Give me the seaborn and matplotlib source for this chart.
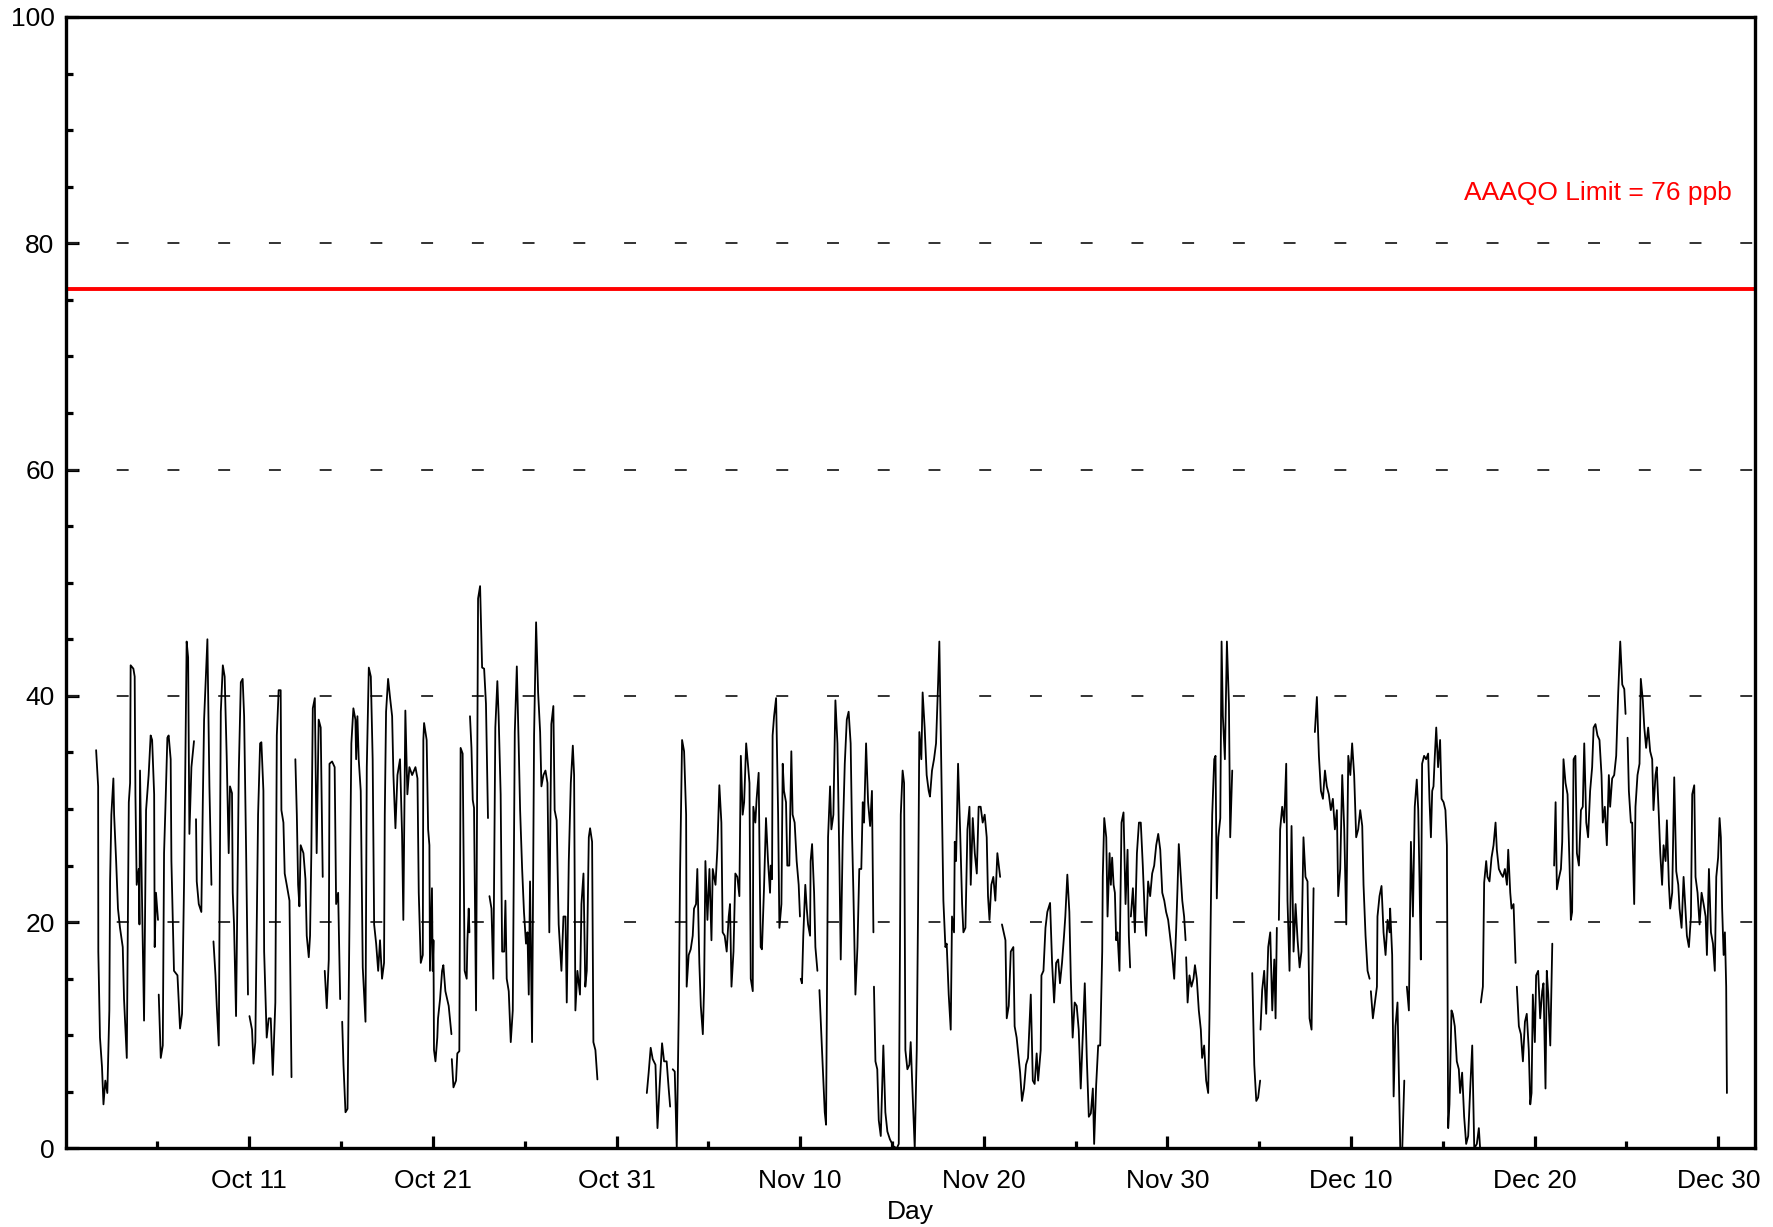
import numpy as np
import pandas as pd
import matplotlib.pyplot as plt
import matplotlib.dates as mdates
import seaborn as sns

nan = np.nan

# hourly ozone (ppb): day offset from Oct 1 00:00, value
# nan marks a break in the record
oct_days = [1.66, 1.77, 1.78, 1.87, 1.98, 2.06, 2.16, 2.27, 2.38, 2.42, 2.49, 2.60, 2.64, 2.75, 2.85, 2.96,
            3.11, 3.18, 3.33, 3.44, 3.51, 3.54, 3.69, 3.76, 3.80, 3.87, 3.98, 4.02, 4.05, 4.16, 4.27, 4.38,
            4.52, 4.63, 4.71, 4.82, 4.85, 4.92, 5.03, nan,
            5.07, 5.18, 5.29, 5.36, 5.43, 5.54, 5.61, 5.72, 5.76, 5.90, 6.09, 6.23, 6.34, 6.45, 6.59, 6.67,
            6.74, 6.85, 6.99, nan,
            7.10, 7.14, 7.25, 7.39, 7.47, 7.54, 7.72, 7.83, 7.94, nan,
            8.05, 8.16, 8.23, 8.34, 8.45, 8.56, 8.66, 8.77, 8.88, 8.95, 9.06, 9.10, 9.17, 9.28, 9.43, 9.54,
            9.64, 9.72, 9.83, 9.93, nan,
            10.01, 10.15, 10.23, 10.33, 10.48, 10.59, 10.66, 10.77, 10.81, 10.95, 11.06, 11.17, 11.28, 11.42,
            11.50, 11.60, 11.71, 11.75, 11.86, 11.93, 12.04, 12.19, 12.30, nan,
            12.51, 12.59, 12.66, 12.73, 12.80, 12.95, 13.06, 13.13, 13.24, 13.31, 13.38, 13.46, 13.57, 13.67,
            13.78, 13.89, 14.00, nan,
            14.11, 14.22, 14.33, 14.37, 14.51, 14.65, 14.73, 14.84, 14.95, nan,
            15.06, 15.13, 15.24, 15.35, 15.42, 15.56, 15.67, 15.78, 15.82, 15.89, 15.96, 16.07, 16.18, 16.33,
            16.40, 16.51, 16.62, 16.72, 16.80, 16.91, 17.02, 17.12, 17.23, 17.34, 17.38, 17.45, 17.56, 17.67,
            17.78, 17.85, 17.96, 18.07, 18.21, 18.32, 18.39, 18.50, 18.61, 18.72, 18.87, 19.05, 19.16, 19.23,
            19.34, 19.45, 19.48, 19.52, 19.66, 19.74, 19.81, 19.84, 19.95, 19.99, 20.03, 20.06, 20.14, 20.24,
            20.28, 20.39, 20.50, 20.57, 20.68, 20.86, 21.01, nan,
            21.03, 21.12, 21.26, 21.33, 21.44, 21.51, 21.62, 21.73, 21.84, 21.88, 21.95, 21.99, nan,
            22.02, 22.10, 22.17, 22.24, 22.35, 22.46, 22.57, 22.68, 22.79, 22.89, 23.00, nan,
            23.08, 23.19, 23.29, 23.40, 23.51, 23.58, 23.69, 23.77, 23.88, 23.95, 24.02, 24.13, 24.24, 24.35,
            24.46, 24.57, 24.67, 24.75, 24.86, 24.96, 25.07, 25.15, 25.22, 25.29, 25.40, 25.51, 25.62, 25.73,
            25.84, 25.91, 26.02, 26.13, 26.24, 26.34, 26.45, 26.56, 26.63, 26.74, 26.85, 27.00, 27.11, 27.22,
            27.29, 27.40, 27.51, 27.62, 27.69, 27.76, 27.87, 28.01, 28.09, 28.20, 28.30, 28.38, 28.49, 28.56,
            28.67, 28.74, 28.85, 28.96]
oct_ppb = [35.2, 32.0, 17.4, 9.8, 7.2, 3.9, 6.0, 4.9, 12.2, 23.6, 29.5, 32.7, 29.5, 25.4, 21.2, 19.5,
           17.8, 13.2, 8.0, 30.6, 32.3, 42.7, 42.4, 41.7, 31.3, 23.3, 24.7, 19.8, 33.4, 22.0, 11.3, 29.9,
           33.0, 36.5, 36.1, 31.3, 17.8, 22.6, 20.2, nan,
           13.6, 8.0, 9.1, 26.1, 29.9, 36.3, 36.5, 34.4, 25.4, 15.7, 15.3, 10.6, 11.9, 23.6, 44.8, 43.4,
           27.8, 33.7, 36.0, nan,
           29.1, 23.6, 21.6, 20.9, 30.6, 37.9, 45.0, 32.0, 23.3, nan,
           18.3, 15.3, 12.6, 9.1, 38.6, 42.7, 41.7, 34.7, 26.1, 32.0, 31.4, 22.6, 19.8, 11.7, 33.4, 41.2,
           41.5, 38.2, 26.1, 13.6, nan,
           11.7, 10.5, 7.5, 9.4, 29.5, 35.8, 35.9, 31.6, 17.4, 9.8, 11.5, 11.5, 6.5, 12.9,
           36.5, 40.5, 40.5, 29.9, 28.8, 24.3, 23.3, 21.9, 6.3, nan,
           34.4, 29.5, 23.3, 21.4, 26.8, 26.1, 23.8, 18.8, 16.9, 18.8, 26.1, 38.9, 39.8, 26.1,
           37.9, 37.2, 24.0, nan,
           15.7, 12.4, 16.7, 34.0, 34.2, 33.7, 21.6, 22.6, 13.2, nan,
           11.2, 7.4, 3.2, 3.5, 14.3, 35.8, 38.9, 37.9, 34.4, 38.2, 34.4, 31.6, 16.0, 11.2,
           33.7, 42.5, 41.7, 34.4, 19.8, 18.1, 15.7, 18.4, 15.0, 16.4, 29.5, 38.6, 41.5, 39.8,
           38.2, 33.0, 28.3, 33.0, 34.4, 27.8, 20.2, 38.7, 31.3, 33.7, 33.0, 33.7, 32.7, 22.6,
           16.4, 17.1, 36.1, 37.6, 36.1, 28.2, 26.8, 15.7, 23.0, 15.7, 18.4, 8.7, 7.7, 9.8,
           11.5, 13.2, 15.7, 16.2, 13.9, 12.6, 10.1, nan,
           7.9, 5.4, 6.0, 8.4, 8.6, 35.4, 34.9, 15.7, 15.0, 18.4, 21.2, 19.1, nan,
           38.2, 35.4, 30.8, 30.1, 12.2, 48.6, 49.7, 42.5, 42.4, 39.3, 29.2, nan,
           22.3, 21.2, 15.0, 37.2, 41.3, 38.2, 31.3, 17.4, 17.4, 21.9, 15.0, 13.9, 9.4, 12.2,
           36.8, 42.6, 35.8, 29.9, 24.7, 20.9, 18.1, 19.1, 13.6, 23.6, 9.4, 36.5, 46.5, 40.3,
           36.8, 32.0, 33.0, 33.4, 32.3, 19.1, 37.5, 39.1, 29.9, 29.0, 19.8, 15.7, 20.5, 20.5,
           12.9, 25.4, 32.3, 35.6, 33.0, 12.2, 15.7, 13.6, 21.6, 24.3, 14.3, 15.7, 27.5, 28.3,
           27.1, 9.4, 8.7, 6.1]

nov_days = [31.65, 31.75, 31.86, 31.97, 32.12, 32.23, 32.34, 32.48, 32.59, 32.73, 32.84, 32.92, nan,
            33.06, 33.17, 33.28, 33.39, 33.46, 33.57, 33.68, 33.79, 33.82, 33.93, 34.04, 34.15, 34.22, 34.33,
            34.40, 34.51, 34.59, 34.70, 34.77, 34.84, 34.95, 35.06, 35.17, 35.24, 35.39, 35.49, 35.60, 35.71,
            35.78, 35.89, 36.00, 36.11, 36.18, 36.26, 36.37, 36.47, 36.58, 36.69, 36.77, 36.87, 36.95, 37.06,
            37.17, 37.24, 37.31, 37.42, 37.45, 37.56, 37.63, 37.74, 37.81, 37.85, 37.92, 38.03, 38.14, 38.25,
            38.36, 38.40, 38.47, 38.50, 38.58, 38.69, 38.80, 38.87, 38.98, 39.05, 39.12, 39.23, 39.30, 39.41,
            39.52, 39.59, 39.70, 39.81, 39.92, 39.99, nan,
            40.03, 40.10, 40.17, 40.28, 40.36, 40.43, 40.54, 40.57, 40.65, 40.76, 40.83, 40.94, nan,
            41.05, 41.19, 41.34, 41.41, 41.52, 41.63, 41.70, 41.81, 41.92, 42.03, 42.14, 42.21, 42.32, 42.43,
            42.54, 42.64, 42.75, 42.83, 42.90, 43.01, 43.12, 43.22, 43.33, 43.41, 43.48, 43.59, 43.70, 43.81,
            43.91, 43.99, nan,
            44.02, 44.10, 44.20, 44.28, 44.39, 44.53, 44.64, 44.75, 44.89, 45.08, 45.26, 45.37, 45.48, 45.58,
            45.66, 45.73, 45.84, 45.95, 46.02, 46.13, 46.24, 46.35, 46.42, 46.49, 46.60, 46.67, 46.78, 46.89,
            47.00, 47.07, 47.18, 47.29, 47.40, 47.51, 47.58, 47.69, 47.80, 47.91, 47.98, 48.09, 48.20, 48.27,
            48.38, 48.42, 48.49, 48.60, 48.71, 48.82, 48.89, 49.00, 49.11, 49.22, 49.29, 49.40, 49.51, 49.62,
            49.72, 49.83, 49.94, 50.05, 50.16, 50.23, 50.31, 50.41, 50.52, 50.63, 50.74, 50.89, nan,
            50.99, 51.18, 51.25, 51.36, 51.47, 51.61, 51.68, 51.79, 51.90, 51.98, 52.08, 52.19, 52.30, 52.41,
            52.56, 52.67, 52.77, 52.88, 52.96, 53.10, 53.14, 53.25, 53.36, 53.46, 53.61, 53.72, 53.83, 53.94,
            54.05, 54.15, 54.26, 54.37, 54.44, 54.55, 54.66, 54.74, 54.84, 54.95, 55.06, 55.17, 55.28, 55.50,
            55.61, 55.72, 55.83, 55.94, 56.01, 56.12, 56.23, 56.34, 56.45, 56.48, 56.56, 56.67, 56.74, 56.85,
            56.92, 56.99, 57.07, 57.14, 57.21, 57.28, 57.39, 57.50, 57.61, 57.72, 57.83, 57.90, 57.97, nan,
            58.01, 58.12, 58.23, 58.34, 58.45, 58.55, 58.66, 58.77, 58.84, 58.95, 59.06, 59.17, 59.28, 59.39,
            59.50, 59.61, 59.72, 59.83, 59.93, 60.04, 60.12, 60.19, 60.26, 60.37, 60.48, 60.55, 60.62, 60.73,
            60.81, 60.91, 60.99, nan,
            61.02, 61.10, 61.20, 61.31, 61.42, 61.50, 61.60, 61.71, 61.82, 61.89, 62.00, 62.11, 62.22, 62.29,
            62.37, 62.44, 62.55, 62.62, 62.69, 62.77, 62.88, 62.95, 63.02, 63.13, 63.24, 63.35, 63.42, 63.53]
nov_ppb = [4.9, 6.7, 8.9, 7.9, 7.4, 1.8, 5.3, 9.3, 7.7, 7.7, 5.3, 3.7, nan,
           7.0, 6.8, 0.0, 12.2, 24.3, 36.1, 35.1, 29.5, 14.3, 17.1, 17.6, 18.8, 21.2, 21.6,
           24.7, 16.4, 12.6, 10.1, 14.3, 25.4, 20.2, 24.7, 18.4, 24.7, 23.3, 26.4, 32.1, 28.8,
           19.1, 18.8, 17.4, 20.5, 21.6, 14.3, 17.4, 24.3, 24.0, 22.3, 34.7, 29.5, 30.6, 35.8,
           33.7, 32.3, 15.0, 13.9, 30.2, 28.8, 30.9, 33.2, 22.9, 17.8, 17.6, 22.9, 29.2, 25.4,
           22.6, 25.0, 23.8, 36.5, 38.2, 39.8, 29.5, 19.5, 21.6, 34.0, 31.6, 30.6, 25.0, 25.0,
           35.1, 29.5, 28.8, 25.4, 23.3, 20.5, nan,
           15.0, 14.6, 18.8, 23.3, 21.2, 19.8, 18.8, 25.4, 26.9, 22.6, 17.8, 15.7, nan,
           14.0, 8.7, 3.2, 2.1, 27.5, 32.0, 28.2, 29.5, 39.6, 35.8, 25.0, 16.7, 27.5, 34.0,
           37.9, 38.6, 35.8, 27.5, 22.6, 13.6, 17.8, 24.7, 24.7, 30.6, 28.8, 35.8, 30.6, 28.5,
           31.6, 19.1, nan,
           14.3, 7.7, 7.0, 2.5, 1.1, 9.1, 3.2, 1.5, 0.8, 0.2, 0.0, 0.4, 29.5, 33.4,
           32.3, 8.7, 7.0, 7.4, 9.4, 4.6, 0.0, 8.7, 20.9, 36.8, 34.4, 40.3, 37.2, 33.0,
           31.6, 31.1, 33.4, 34.4, 35.8, 41.0, 44.8, 33.4, 21.9, 17.8, 18.1, 13.6, 10.5, 20.5,
           19.1, 27.1, 25.4, 34.0, 28.2, 21.6, 19.1, 19.5, 28.2, 30.2, 23.3, 29.2, 26.1, 24.3,
           30.2, 30.2, 28.8, 29.5, 27.5, 22.3, 20.2, 23.3, 24.0, 21.9, 26.1, 24.0, nan,
           19.8, 18.4, 11.5, 12.6, 17.4, 17.8, 10.8, 9.8, 8.0, 6.7, 4.2, 5.3, 7.4, 8.0,
           13.6, 6.0, 5.7, 8.4, 6.0, 8.7, 15.3, 15.7, 19.5, 20.9, 21.7, 16.4, 12.9, 16.4,
           16.7, 14.6, 16.4, 18.8, 20.5, 24.2, 20.9, 15.0, 9.8, 12.9, 12.6, 10.5, 5.3, 14.6,
           8.0, 2.8, 3.1, 5.3, 0.4, 5.6, 9.1, 9.1, 17.4, 24.0, 29.2, 27.5, 20.5, 26.1,
           23.3, 25.7, 23.3, 22.6, 18.4, 19.1, 15.7, 28.8, 29.7, 21.6, 26.4, 18.8, 16.0, nan,
           20.5, 23.0, 19.1, 26.1, 28.8, 28.8, 25.0, 20.5, 18.8, 23.6, 22.3, 24.3, 25.0, 26.8,
           27.8, 26.4, 22.6, 21.9, 20.9, 20.2, 19.1, 18.1, 17.1, 15.0, 19.5, 23.0, 26.9, 24.0,
           21.9, 20.5, 18.4, nan,
           16.9, 12.9, 15.3, 14.3, 15.0, 16.2, 15.0, 12.2, 10.5, 8.0, 9.1, 6.0, 4.9, 11.5,
           21.9, 29.5, 34.4, 34.7, 22.1, 27.5, 29.2, 44.8, 38.2, 34.4, 44.8, 39.3, 27.5, 33.4]

dec_days = [64.62, 64.73, 64.84, 64.94, 65.05, nan,
            65.07, 65.16, 65.27, 65.38, 65.49, 65.60, 65.71, 65.82, 65.89, 65.96, nan,
            66.07, 66.14, 66.25, 66.36, 66.47, 66.54, 66.65, 66.76, 66.87, 66.98, 67.09, 67.20, 67.30, 67.41,
            67.52, 67.63, 67.74, 67.85, 67.96, nan,
            68.03, 68.14, 68.25, 68.36, 68.47, 68.58, 68.68, 68.79, 68.90, 69.01, 69.12, 69.23, 69.30, 69.41,
            69.52, 69.63, 69.74, 69.85, 69.96, 70.06, 70.17, 70.28, 70.39, 70.50, 70.61, 70.68, 70.79, 70.90,
            71.01, nan,
            71.08, 71.19, 71.30, 71.41, 71.44, 71.55, 71.66, 71.77, 71.88, 71.99, 72.10, 72.13, 72.24, 72.32,
            72.42, 72.53, 72.61, 72.68, nan,
            72.79, 72.90, nan,
            73.04, 73.15, 73.26, 73.37, 73.47, 73.58, 73.66, 73.73, 73.80, 73.87, 73.98, 74.09, 74.20, 74.27,
            74.35, 74.42, 74.49, 74.56, 74.64, 74.74, 74.85, 74.93, 75.04, 75.14, 75.22, 75.29, 75.36, 75.47,
            75.54, 75.65, 75.76, 75.87, 75.94, 76.05, 76.16, 76.27, 76.38, 76.49, 76.60, 76.71, 76.85, 76.96,
            77.03, nan,
            77.07, 77.18, 77.25, 77.36, 77.43, 77.54, 77.65, 77.76, 77.87, 77.94, 78.05, 78.16, 78.27, 78.38,
            78.49, 78.56, 78.67, 78.74, 78.85, 78.96, nan,
            79.03, 79.14, 79.25, 79.36, 79.47, 79.57, 79.68, 79.76, 79.83, 79.90, 80.01, 80.08, 80.19, 80.30,
            80.41, 80.48, 80.59, 80.66, 80.74, 80.85, 80.96, nan,
            81.06, 81.14, 81.21, 81.32, 81.43, 81.50, 81.57, 81.68, 81.79, 81.90, 81.97, 82.04, 82.12, 82.22,
            82.30, 82.41, 82.52, 82.62, 82.70, 82.81, 82.91, 83.02, 83.13, 83.21, 83.31, 83.42, 83.53, 83.64,
            83.71, 83.82, 83.93, 84.04, 84.11, 84.22, 84.33, 84.44, 84.55, 84.66, 84.77, 84.88, 84.95, nan,
            85.06, 85.13, 85.24, 85.31, 85.42, 85.49, 85.60, 85.71, 85.78, 85.89, 85.97, 86.07, 86.18, 86.29,
            86.40, 86.47, 86.58, 86.65, 86.76, 86.84, 86.94, 87.02, 87.13, 87.20, 87.31, 87.38, 87.49, 87.60,
            87.71, 87.82, 87.89, 88.00, 88.11, 88.22, 88.29, 88.40, 88.51, 88.58, 88.69, 88.76, 88.87, 88.98,
            89.09, 89.20, 89.31, 89.38, 89.49, 89.60, 89.71, 89.81, 89.89, 89.99, 90.07, 90.14, 90.21, 90.29,
            90.36, 90.43, 90.47]
dec_ppb = [15.5, 7.4, 4.2, 4.5, 6.0, nan,
           10.5, 14.0, 15.7, 11.9, 17.8, 19.1, 12.2, 16.7, 11.5, 19.5, nan,
           20.2, 28.2, 30.2, 28.8, 34.0, 21.9, 15.7, 28.5, 17.4, 21.6, 18.4, 16.0, 17.4, 27.5,
           24.0, 23.6, 11.5, 10.5, 23.0, nan,
           36.8, 39.9, 34.7, 31.6, 30.9, 33.4, 32.0, 31.3, 29.9, 30.9, 28.2, 29.9, 22.3, 24.7,
           33.0, 28.2, 19.8, 34.7, 33.0, 35.8, 33.0, 27.5, 28.2, 29.9, 28.5, 23.3, 18.8, 15.7,
           15.0, nan,
           13.9, 11.5, 12.9, 14.3, 20.5, 22.3, 23.2, 19.1, 17.1, 20.2, 19.1, 21.2, 17.1, 4.6,
           10.8, 12.9, 6.0, 0.0, nan,
           0.0, 6.0, nan,
           14.3, 12.2, 27.1, 20.5, 30.2, 32.6, 29.9, 23.6, 16.7, 34.0, 34.7, 34.4, 34.9, 30.9,
           27.5, 31.6, 32.0, 34.6, 37.2, 33.7, 36.1, 30.9, 30.6, 29.9, 26.8, 1.8, 3.9, 12.2,
           11.9, 10.8, 7.7, 7.0, 4.9, 6.7, 2.8, 0.4, 1.1, 5.3, 9.1, 0.0, 0.4, 1.8,
           0.0, nan,
           12.9, 14.3, 23.5, 25.4, 24.0, 23.6, 25.7, 26.8, 28.8, 26.4, 24.7, 24.3, 24.0, 24.7,
           23.3, 26.4, 22.6, 21.2, 21.6, 16.4, nan,
           14.3, 10.8, 10.1, 7.7, 11.2, 11.9, 8.7, 3.9, 4.9, 13.6, 9.4, 15.3, 15.7, 11.5,
           13.9, 14.6, 5.3, 15.7, 13.6, 9.1, 18.1, nan,
           25.0, 30.6, 22.9, 23.9, 24.7, 27.1, 34.4, 32.3, 31.3, 25.0, 20.2, 20.9, 34.4, 34.7,
           26.1, 25.0, 29.9, 30.2, 35.8, 28.8, 27.5, 31.6, 33.7, 37.2, 37.5, 36.5, 36.1, 33.0,
           28.8, 30.2, 26.8, 33.0, 30.2, 32.7, 33.0, 34.7, 40.3, 44.8, 41.0, 40.6, 38.4, nan,
           36.3, 31.6, 28.8, 28.8, 21.6, 30.2, 33.0, 34.0, 41.5, 39.6, 37.2, 35.4, 37.2, 35.1,
           34.4, 29.9, 33.0, 33.7, 29.5, 26.1, 23.3, 26.8, 25.4, 29.0, 23.3, 21.2, 22.6, 32.8,
           24.5, 23.3, 21.2, 19.5, 24.0, 20.9, 18.8, 17.8, 20.5, 31.3, 32.1, 24.0, 22.6, 19.8,
           22.6, 21.6, 20.5, 17.1, 24.7, 19.1, 18.1, 15.7, 24.0, 25.7, 29.2, 27.5, 21.2, 17.1,
           19.1, 14.3, 4.9]

LIMIT = 76
LIMIT_TEXT = "AAAQO Limit = 76 ppb"
START = pd.Timestamp("2019-10-01")
major_dates = pd.date_range("2019-10-11", "2019-12-30", freq="10D")
minor_dates = pd.date_range("2019-10-06", "2019-12-30", freq="10D")

# build one table, each unbroken stretch gets its own unit id
days = np.array(oct_days + [nan] + nov_days + [nan] + dec_days, dtype=float)
ppb = np.array(oct_ppb + [nan] + nov_ppb + [nan] + dec_ppb, dtype=float)
seg = np.cumsum(np.isnan(ppb))
keep = ~np.isnan(ppb)
df = pd.DataFrame({
    "time": START + pd.to_timedelta(days[keep], unit="D"),
    "ppb": ppb[keep],
    "seg": seg[keep],
})

sns.set_theme(style="ticks")
plt.rcParams["font.family"] = ["Liberation Sans", "DejaVu Sans"]

fig = plt.figure(figsize=(17.74, 12.27), dpi=100)
ax = fig.add_axes([0.037, 0.064, 0.9523, 0.9222])

# dashed horizontal guides
for yv in [20, 40, 60, 80]:
    ax.axhline(yv, color="#222222", lw=1.3, ls=(0, (6.6, 21.5)), zorder=1)

sns.lineplot(data=df, x="time", y="ppb", units="seg", estimator=None, sort=False,
             color="black", lw=1.3, legend=False, ax=ax, zorder=3)

ax.axhline(LIMIT, color="red", lw=2.8, zorder=4)
ax.text(0.986, 84.4, LIMIT_TEXT, color="red", fontsize=19, ha="right", va="center",
        transform=ax.get_yaxis_transform())

ax.set_xlim(START, pd.Timestamp("2020-01-01"))
ax.set_ylim(0, 100)
ax.set_xticks(major_dates)
ax.set_xticks(minor_dates, minor=True)
ax.xaxis.set_major_formatter(mdates.DateFormatter("%b %d"))
ax.set_yticks(range(0, 101, 20))
ax.set_yticks(range(0, 101, 5), minor=True)

ax.tick_params(which="both", direction="in", color="black", width=2.3,
               labelsize=19, labelcolor="black")
ax.tick_params(which="major", length=9)
ax.tick_params(which="minor", length=5)
ax.tick_params(axis="x", which="major", pad=15)
ax.tick_params(axis="y", which="major", pad=8)

for sp in ax.spines.values():
    sp.set_color("black")
    sp.set_linewidth(2.4)
    sp.set_zorder(5)

ax.set_xlabel("Day", fontsize=19, color="black", labelpad=5)
ax.set_ylabel("")
ax.grid(False)

fig.savefig("out.png", dpi=100)
